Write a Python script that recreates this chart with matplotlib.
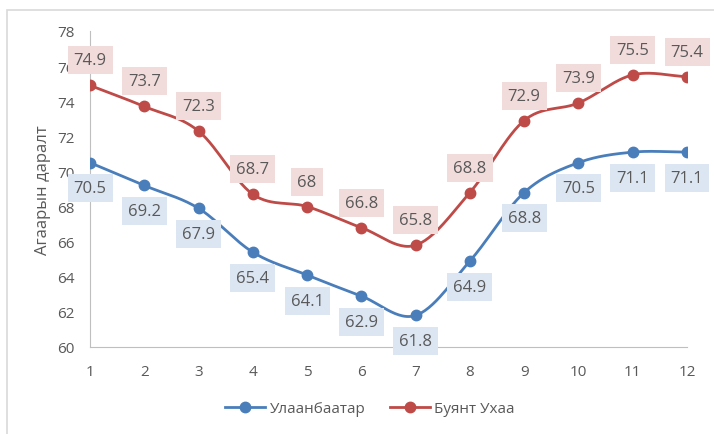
import numpy as np
import matplotlib.pyplot as plt
from matplotlib.patches import Rectangle

# Months and pressure values
months = [1, 2, 3, 4, 5, 6, 7, 8, 9, 10, 11, 12]
ulaanbaatar = [70.5, 69.2, 67.9, 65.4, 64.1, 62.9, 61.8, 64.9, 68.8, 70.5, 71.1, 71.1]
buyant_ukhaa = [74.9, 73.7, 72.3, 68.7, 68.0, 66.8, 65.8, 68.8, 72.9, 73.9, 75.5, 75.4]
labels_ub = ['70.5', '69.2', '67.9', '65.4', '64.1', '62.9', '61.8', '64.9', '68.8', '70.5', '71.1', '71.1']
labels_bu = ['74.9', '73.7', '72.3', '68.7', '68', '66.8', '65.8', '68.8', '72.9', '73.9', '75.5', '75.4']

BLUE = '#4a7ebb'
RED = '#be4b48'
TXT = '#595959'

plt.rcParams['font.family'] = ['Open Sans', 'DejaVu Sans']


def smooth(x, y, n=30):
    # Catmull-Rom style smoothing, similar to Excel's "smoothed line"
    x = np.asarray(x, float)
    y = np.asarray(y, float)
    px = np.concatenate([[2 * x[0] - x[1]], x, [2 * x[-1] - x[-2]]])
    py = np.concatenate([[2 * y[0] - y[1]], y, [2 * y[-1] - y[-2]]])
    xs, ys = [], []
    t = np.linspace(0, 1, n)
    for i in range(1, len(px) - 2):
        p0, p1, p2, p3 = (np.array([px[j], py[j]]) for j in range(i - 1, i + 3))
        c1 = p1 + (p2 - p0) / 6
        c2 = p2 - (p3 - p1) / 6
        b = ((1 - t) ** 3)[:, None] * p1 + (3 * (1 - t) ** 2 * t)[:, None] * c1 \
            + (3 * (1 - t) * t ** 2)[:, None] * c2 + (t ** 3)[:, None] * p2
        xs.extend(b[:, 0])
        ys.extend(b[:, 1])
    return xs, ys


fig = plt.figure(figsize=(7.14, 4.35), dpi=100)
ax = fig.add_axes([90 / 714, 1 - 348 / 435, (687 - 90) / 714, (348 - 32) / 435])

# chart border
fig.patches.append(Rectangle((7 / 714, -0.1), 1.0, 1.1 - 11 / 435, transform=fig.transFigure,
                             fill=False, edgecolor='#d9d9d9', linewidth=1.2))

for vals, lbls, col, bg, off in [(ulaanbaatar, labels_ub, BLUE, '#dce6f2', -18.5),
                                 (buyant_ukhaa, labels_bu, RED, '#f2dcdb', 18)]:
    sx, sy = smooth(months, vals)
    ax.plot(sx, sy, color=col, linewidth=2.0, zorder=3)
    ax.plot(months, vals, 'o', color=col, markersize=7.5, zorder=4)
    for m, v, s in zip(months, vals, lbls):
        ax.annotate(s, (m, v), xytext=(0, off), textcoords='offset points',
                    ha='center', va='center', fontsize=12, color=TXT, zorder=5,
                    bbox=dict(boxstyle='square,pad=0.36', fc=bg, ec='none'),
                    annotation_clip=False)

ax.set_xlim(1, 12)
ax.set_ylim(60, 78)
ax.set_xticks(months)
ax.set_yticks(np.arange(60, 79, 2))
ax.tick_params(length=0, labelsize=11, colors=TXT)
ax.tick_params(axis='y', pad=11)
ax.tick_params(axis='x', pad=12)
for side in ['top', 'right']:
    ax.spines[side].set_visible(False)
for side in ['left', 'bottom']:
    ax.spines[side].set_color('#bfbfbf')
ax.set_ylabel('Агаарын даралт', fontsize=12, color=TXT)
ax.yaxis.set_label_coords(-0.066, 0.5)

# legend
h1, = ax.plot([], [], '-o', color=BLUE, linewidth=2.0, markersize=7.5)
h2, = ax.plot([], [], '-o', color=RED, linewidth=2.0, markersize=7.5)
fig.legend([h1, h2], ['Улаанбаатар', 'Буянт Ухаа'], loc='center', ncol=2,
           bbox_to_anchor=(370 / 714, 1 - 410 / 435), frameon=False, fontsize=11,
           labelcolor=TXT, handlelength=2.6, columnspacing=1.6, handletextpad=0.3)

fig.savefig('out.png', dpi=100)
